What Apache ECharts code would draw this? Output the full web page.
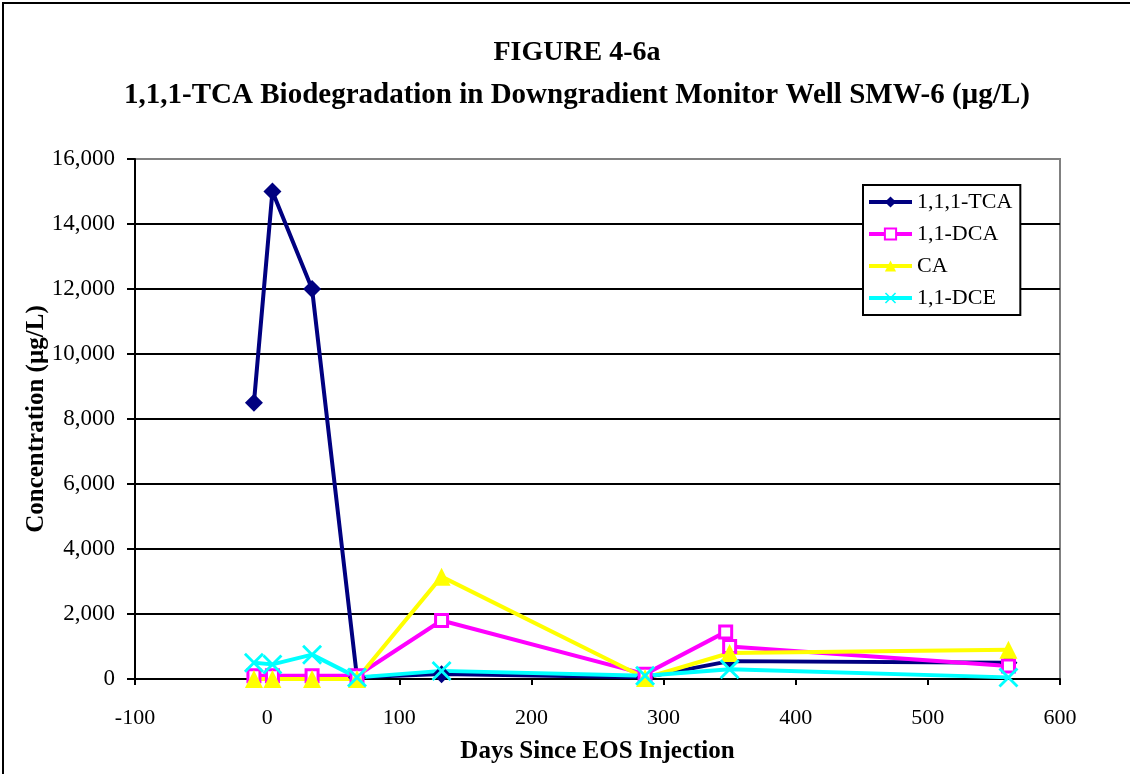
<!DOCTYPE html>
<html>
<head>
<meta charset="utf-8">
<script src="https://cdn.jsdelivr.net/npm/echarts@6/dist/echarts.min.js"></script>
<style>
  html, body { margin: 0; padding: 0; background: #fff; }
  #chart { width: 1130px; height: 774px; }
</style>
</head>
<body>
<div id="chart"></div>
<script>
// days since injection
const days = [-10, 4, 34, 68, 132, 286, 350, 561]
const daysDca = [-10, 4, 34, 68, 132, 286, 347, 350, 561]

// concentrations, ug/L
const tca = [8500, 15000, 12000, 50, 150, 50, 550, 500]
const dca = [100, 100, 100, 100, 1800, 150, 1450, 1000, 400]
const ca = [0, 0, 0, 0, 3150, 30, 800, 900]
const dce = [500, 450, 750, 50, 250, 100, 300, 50]

const seriesNames = ['1,1,1-TCA', '1,1-DCA', 'CA', '1,1-DCE']
const gridColors = ['#000', '#000', '#000', '#000', '#000', '#000', '#000', '#000', '#808080']

const font = 'Liberation Serif, Times New Roman, serif'
const crossPath = 'path://M0,1L1,0L5,4L9,0L10,1L6,5L10,9L9,10L5,6L1,10L0,9L4,5Z'

const zip = (xs, ys) => xs.map((x, i) => [x, ys[i]])

const chart = echarts.init(document.getElementById('chart'), null, { renderer: 'canvas' })

chart.setOption({
  animation: false,
  backgroundColor: '#fff',
  title: [
    {
      text: 'FIGURE 4-6a',
      left: 572,
      top: 34,
      textAlign: 'center',
      textStyle: { fontFamily: font, fontSize: 28, fontWeight: 'bold', color: '#000' }
    },
    {
      text: '1,1,1-TCA Biodegradation in Downgradient Monitor Well SMW-6 (µg/L)',
      left: 572,
      top: 76,
      textAlign: 'center',
      textStyle: { fontFamily: font, fontSize: 29, fontWeight: 'bold', color: '#000' }
    }
  ],
  graphic: [
    {
      type: 'rect',
      shape: { x: 3, y: 3, width: 1140, height: 790 },
      style: { fill: null, stroke: '#000', lineWidth: 2 },
      silent: true
    }
  ],
  legend: {
    orient: 'vertical',
    left: 863,
    top: 185,
    width: 155,
    padding: [6, 8, 6, 4],
    itemWidth: 43,
    itemHeight: 14,
    itemGap: 10,
    backgroundColor: '#fff',
    borderColor: '#000',
    borderWidth: 2,
    borderRadius: 0,
    lineStyle: { width: 4 },
    textStyle: { fontFamily: font, fontSize: 22, color: '#000', padding: [6, 0, 0, 0] },
    data: seriesNames
  },
  grid: {
    show: true,
    left: 135,
    top: 159,
    right: 70,
    bottom: 95,
    borderColor: '#808080',
    borderWidth: 2,
    containLabel: false
  },
  xAxis: {
    type: 'value',
    min: -100,
    max: 600,
    interval: 100,
    name: 'Days Since EOS Injection',
    nameLocation: 'middle',
    nameGap: 60,
    nameMoveOverlap: false,
    nameTextStyle: { fontFamily: font, fontSize: 25, fontWeight: 'bold', color: '#000' },
    axisLine: { onZero: false, lineStyle: { color: '#000', width: 2 } },
    axisTick: { show: true, length: 6, lineStyle: { color: '#000', width: 2 } },
    axisLabel: { fontFamily: font, fontSize: 22, color: '#000', margin: 28 },
    splitLine: { show: false }
  },
  yAxis: {
    type: 'value',
    min: 0,
    max: 16000,
    interval: 2000,
    name: 'Concentration (µg/L)',
    nameLocation: 'middle',
    nameGap: 86,
    nameMoveOverlap: false,
    nameTextStyle: { fontFamily: font, fontSize: 25, fontWeight: 'bold', color: '#000' },
    axisLine: { show: true, onZero: false, lineStyle: { color: '#000', width: 2 } },
    axisTick: { show: true, length: 8, lineStyle: { color: '#000', width: 2 } },
    axisLabel: {
      fontFamily: font,
      fontSize: 23,
      color: '#000',
      margin: 20,
      padding: [10, 0, 0, 0],
      formatter: v => v.toLocaleString('en-US')
    },
    splitLine: { show: true, lineStyle: { color: gridColors, width: 2 } }
  },
  series: [
    {
      name: seriesNames[0],
      type: 'line',
      data: zip(days, tca),
      symbol: 'diamond',
      symbolSize: 18,
      lineStyle: { color: '#000080', width: 4 },
      itemStyle: { color: '#000080' }
    },
    {
      name: seriesNames[1],
      type: 'line',
      data: zip(daysDca, dca),
      symbol: 'rect',
      symbolSize: 12,
      lineStyle: { color: '#FF00FF', width: 4 },
      itemStyle: { color: '#fff', borderColor: '#FF00FF', borderWidth: 3 }
    },
    {
      name: seriesNames[2],
      type: 'line',
      data: zip(days, ca),
      symbol: 'triangle',
      symbolSize: 18,
      lineStyle: { color: '#FFFF00', width: 4 },
      itemStyle: { color: '#FFFF00' }
    },
    {
      name: seriesNames[3],
      type: 'line',
      data: zip(days, dce),
      symbol: crossPath,
      symbolSize: 20,
      lineStyle: { color: '#00FFFF', width: 4 },
      itemStyle: { color: '#00FFFF' }
    }
  ]
})
</script>
</body>
</html>
